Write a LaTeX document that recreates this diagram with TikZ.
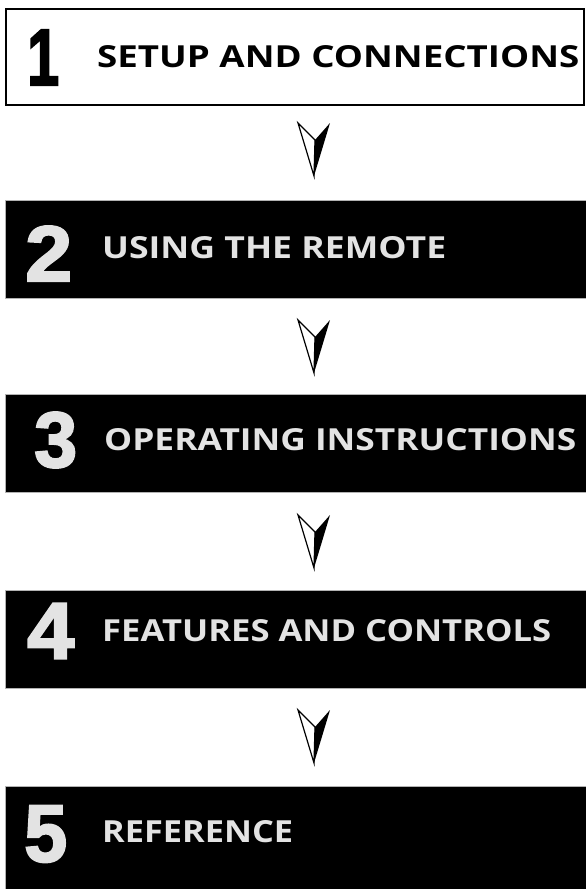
\documentclass[tikz,border=0pt]{standalone}
\usepackage{fontspec}
\setmainfont{Open Sans}
\newfontfamily\numfont[BoldFeatures={FakeBold=2.5}]{Liberation Sans}
\usepackage{graphicx}
\tikzset{
  lightbox/.style={draw=black, line width=2pt, fill=white, minimum width=578pt, minimum height=96pt, inner sep=0pt, anchor=north west},
  darkbox/.style={draw=gray!60, line width=0.6pt, fill=black, inner sep=0pt, anchor=north west, minimum width=585pt, minimum height=98pt},
  numlabel/.style={inner sep=0pt, anchor=west},
  titlelabel/.style={inner sep=0pt, anchor=west},
  darktext/.style={text=gray!22},
  pics/flowarrow/.style={code={
    \filldraw[fill=white, draw=black, line width=1.2pt, line join=miter] (-16,0) -- (1,17) -- (0,53) -- cycle;
    \fill[black] (1,17) -- (16,0) -- (0,53) -- cycle;
  }}
}
\begin{document}
\begin{tikzpicture}[x=1pt,y=-1pt]
\useasboundingbox (0,0) rectangle (586,889);
% boxes
\node[lightbox] (b1) at (5,8) {};
\node[darkbox] (b2) at (5,200) {};
\node[darkbox] (b3) at (5,394) {};
\node[darkbox] (b4) at (5,590) {};
\node[darkbox, minimum height=110pt] (b5) at (5,786) {};
% box 1
\node[numlabel] (n1) at (27,57.5) {\resizebox{32pt}{55pt}{\numfont\bfseries 1}};
\node[titlelabel] (t1) at (97,57) {\resizebox{482pt}{22pt}{\bfseries SETUP AND CONNECTIONS}};
% box 2
\node[numlabel, darktext] (n2) at (25,253.5) {\resizebox{47pt}{55pt}{\numfont\bfseries 2}};
\node[titlelabel, darktext] (t2) at (102,247.5) {\resizebox{344pt}{22pt}{\bfseries USING THE REMOTE}};
% box 3
\node[numlabel, darktext] (n3) at (34,440) {\resizebox{43pt}{55pt}{\numfont\bfseries 3}};
\node[titlelabel, darktext] (t3) at (104,439.5) {\resizebox{472pt}{22pt}{\bfseries OPERATING INSTRUCTIONS}};
% box 4
\node[numlabel, darktext] (n4) at (27,631) {\resizebox{47pt}{55pt}{\numfont\bfseries 4}};
\node[titlelabel, darktext] (t4) at (102,630.5) {\resizebox{449pt}{22pt}{\bfseries FEATURES AND CONTROLS}};
% box 5
\node[numlabel, darktext] (n5) at (24,834) {\resizebox{43pt}{56pt}{\numfont\bfseries 5}};
\node[titlelabel, darktext] (t5) at (102,832) {\resizebox{191pt}{22pt}{\bfseries REFERENCE}};
% arrows
\coordinate (a1) at (314,123);
\coordinate (a2) at (314,320);
\coordinate (a3) at (314,515);
\coordinate (a4) at (314,710);
\pic at (a1) {flowarrow};
\pic at (a2) {flowarrow};
\pic at (a3) {flowarrow};
\pic at (a4) {flowarrow};
\end{tikzpicture}
\end{document}
